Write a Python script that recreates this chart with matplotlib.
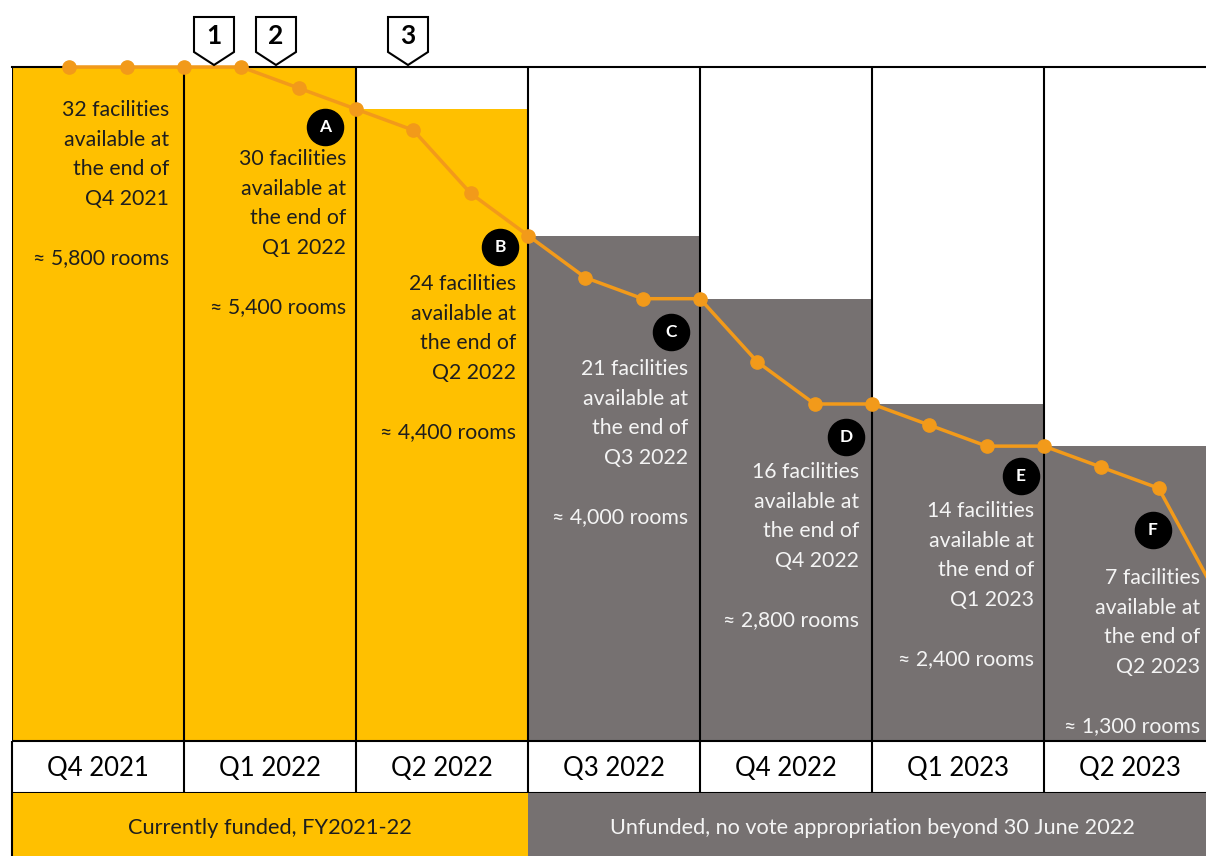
import matplotlib
matplotlib.use("Agg")
import matplotlib.pyplot as plt
from matplotlib.patches import Polygon

plt.rcParams['font.family'] = ['Lato', 'DejaVu Sans']

# ---- data ----
quarters = ['Q4 2021', 'Q1 2022', 'Q2 2022', 'Q3 2022', 'Q4 2022', 'Q1 2023', 'Q2 2023']
bar_values = [32, 32, 30, 24, 21, 16, 14]          # facilities at start of quarter
monthly_values = [32, 32, 32, 32, 31, 30, 29, 26, 24, 22, 21, 21,
                  18, 16, 16, 15, 14, 14, 13, 12, 7]  # end of each month
facilities_end = [32, 30, 24, 21, 16, 14, 7]
rooms = ['5,800', '5,400', '4,400', '4,000', '2,800', '2,400', '1,300']
letters = ['', 'A', 'B', 'C', 'D', 'E', 'F']
milestones = ['1', '2', '3']
funding_labels = ['Currently funded, FY2021-22',
                  'Unfunded, no vote appropriation beyond 30 June 2022']

YELLOW = '#FFC000'
GRAY = '#767171'
ORANGE = '#F29A1A'
DARK = '#1E1E1E'
LIGHT = '#F4F4F4'

W, H = 1206, 856
X0, COLW = 12, 172
YB, YT = 741, 67

fig = plt.figure(figsize=(W / 100, H / 100), dpi=100)


def px(x, y):
    # pixel position on the image -> data coords of main axes
    return (x - X0) / COLW, (YB - y) * 32 / (YB - YT)


ax = fig.add_axes([X0 / W, (H - YB) / H, 7 * COLW / W, (YB - YT) / H])
ax.set_xlim(0, 7)
ax.set_ylim(0, 32)
ax.axis('off')

colors = [YELLOW] * 3 + [GRAY] * 4
ax.bar(range(7), bar_values, width=1, align='edge', color=colors, linewidth=0)
ax.vlines(range(7), 0, 32, color='black', lw=1.5)
ax.axhline(32, color='black', lw=1.5, clip_on=False)

mx = [(i + 1) / 3 for i in range(len(monthly_values))]
ax.plot(mx, monthly_values, color=ORANGE, lw=2.5, marker='o', ms=9.5, clip_on=False, zorder=5)

# annotations per quarter
text_pos = [(169, 100), (346, 149), (516, 274), (688, 359), (859, 462), (1034, 501), (1200, 568)]
letter_pos = [None, (325, 127), (500, 247), (671, 332), (846, 437), (1021, 476), (1153, 530)]
for i in range(7):
    col = DARK if i < 3 else LIGHT
    s = (f"{facilities_end[i]} facilities\navailable at\nthe end of\n{quarters[i]}"
         f"\n\n\u2248 {rooms[i]} rooms")
    tx, ty = px(*text_pos[i])
    ax.text(tx, ty, s, ha='right', va='top', fontsize=15.3, color=col,
            linespacing=1.6, zorder=6)
    if letters[i]:
        lx, ly = px(*letter_pos[i])
        ax.plot(lx, ly, 'o', ms=26, color='black', zorder=7, clip_on=False)
        ax.text(lx, ly, letters[i], ha='center', va='center', color='white',
                fontsize=12.5, fontweight='bold', zorder=8)

# milestone markers above the chart
ms_x = [214, 276, 408]
for cx, lab in zip(ms_x, milestones):
    verts = [px(cx - 20, 17), px(cx + 20, 17), px(cx + 20, 52), px(cx, 65), px(cx - 20, 52)]
    ax.add_patch(Polygon(verts, closed=True, facecolor='white', edgecolor='black',
                         lw=1.5, clip_on=False, zorder=9))
    lx, ly = px(cx, 36)
    ax.text(lx, ly, lab, ha='center', va='center', fontsize=19, fontweight='bold',
            color='black', zorder=10)

# quarter label row
ax2 = fig.add_axes([X0 / W, (H - 793) / H, 7 * COLW / W, 52 / H])
ax2.set_xlim(0, 7)
ax2.set_ylim(0, 1)
ax2.axis('off')
ax2.vlines(range(8), 0, 1, color='black', lw=1.5, clip_on=False)
ax2.hlines([0, 1], 0, 7, color='black', lw=1.5, clip_on=False)
for i, q in enumerate(quarters):
    ax2.text(i + 0.5, 0.47, q, ha='center', va='center', fontsize=18.5, color='black')

# funding row
ax3 = fig.add_axes([X0 / W, -10 / H, 7 * COLW / W, 73 / H])
ax3.set_xlim(0, 7)
ax3.set_ylim(0, 1)
ax3.axis('off')
ax3.barh(0.5, [3, 4], left=[0, 3], height=1, color=[YELLOW, GRAY], linewidth=0)
ax3.vlines(0, 0, 1, color='black', lw=1.5, clip_on=False)
ax3.text(1.5, 0.52, funding_labels[0], ha='center', va='center', fontsize=15.7, color=DARK)
ax3.text(5.0, 0.52, funding_labels[1], ha='center', va='center', fontsize=15.6, color=LIGHT)

fig.savefig('out.png', dpi=100)
